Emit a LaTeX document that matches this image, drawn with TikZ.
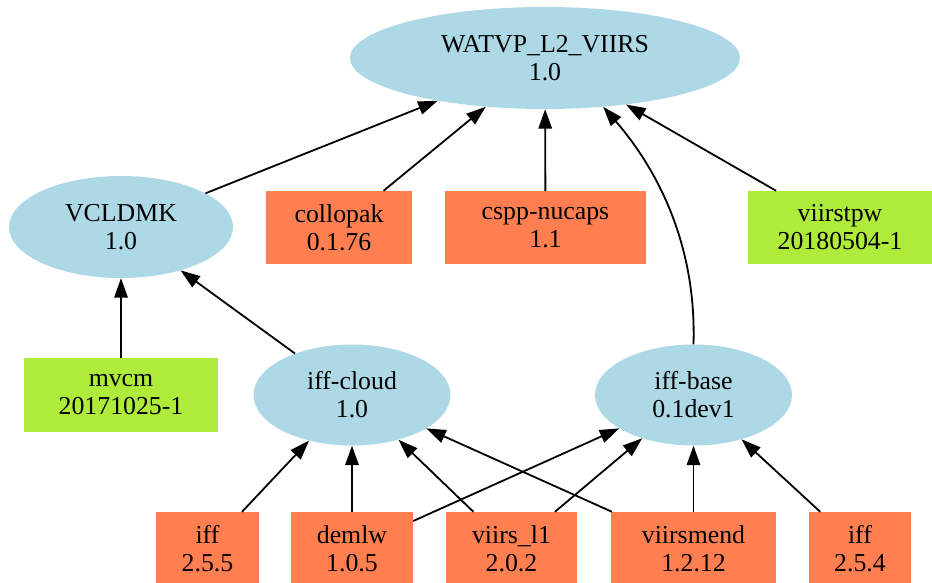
\documentclass[tikz,border=0pt]{standalone}
\usepackage{fontspec}
\setmainfont{Liberation Serif}
\usetikzlibrary{shapes.geometric,arrows.meta}
\definecolor{pkgblue}{HTML}{ADD8E6}
\definecolor{pkgcoral}{HTML}{FF7F50}
\definecolor{pkggreen}{HTML}{AFEB3A}
\begin{document}
\begin{tikzpicture}[x=1pt,y=-1pt,
  lbl/.style={align=center,font=\fontsize{25.8}{28}\selectfont,text=black,inner sep=0pt},
  ell/.style={lbl,ellipse,fill=pkgblue},
  boxc/.style={lbl,rectangle,fill=pkgcoral,minimum height=73pt},
  boxg/.style={lbl,rectangle,fill=pkggreen,minimum height=73pt},
  dep/.style={line width=1.8pt,-{Triangle[length=19.5pt,width=13.5pt]}}
]
\useasboundingbox (0,0) rectangle (932,583);
% nodes
\node[ell,minimum width=390pt,minimum height=102pt] (wat) at (545,58) {WATVP\_L2\_VIIRS\\1.0};
\node[ell,minimum width=224pt,minimum height=102pt] (vcl) at (121,227) {VCLDMK\\1.0};
\node[boxc,minimum width=146pt] (col) at (339,227.5) {collopak\\0.1.76};
\node[boxc,minimum width=201pt] (csp) at (545.5,227.5) {cspp-nucaps\\1.1};
\node[boxg,minimum width=184pt] (vtp) at (840,227.5) {viirstpw\\20180504-1};
\node[boxg,minimum width=194pt,minimum height=74pt] (mvc) at (121,395) {mvcm\\20171025-1};
\node[ell,minimum width=197pt,minimum height=101pt] (ifc) at (352,395) {iff-cloud\\1.0};
\node[ell,minimum width=197pt,minimum height=101pt] (ifb) at (693.5,395) {iff-base\\0.1dev1};
\node[boxc,minimum width=103pt] (iffa) at (207.5,548.5) {iff\\2.5.5};
\node[boxc,minimum width=122pt] (dem) at (352,548.5) {demlw\\1.0.5};
\node[boxc,minimum width=131pt] (vl1) at (511.5,548.5) {viirs\_l1\\2.0.2};
\node[boxc,minimum width=165pt] (vmd) at (693.5,548.5) {viirsmend\\1.2.12};
\node[boxc,minimum width=102pt] (iffb) at (860,548.5) {iff\\2.5.4};
% edges
\draw[dep] (vcl) -- (wat);
\draw[dep] (col) -- (wat);
\draw[dep] (csp) -- (wat);
\draw[dep] (vtp) -- (wat);
\draw[dep] (ifb.north) .. controls (697,230) and (645,155) .. (wat.-40);
\draw[dep] (mvc) -- (vcl);
\draw[dep] (ifc) -- (vcl);
\draw[dep] (iffa) -- (ifc);
\draw[dep] (dem) -- (ifc);
\draw[dep] (vl1) -- (ifc);
\draw[dep] (vmd) -- (ifc);
\draw[dep] (dem) -- (ifb);
\draw[dep] (vl1) -- (ifb);
\draw[dep] (vmd) -- (ifb);
\draw[dep] (iffb) -- (ifb);
\end{tikzpicture}
\end{document}
